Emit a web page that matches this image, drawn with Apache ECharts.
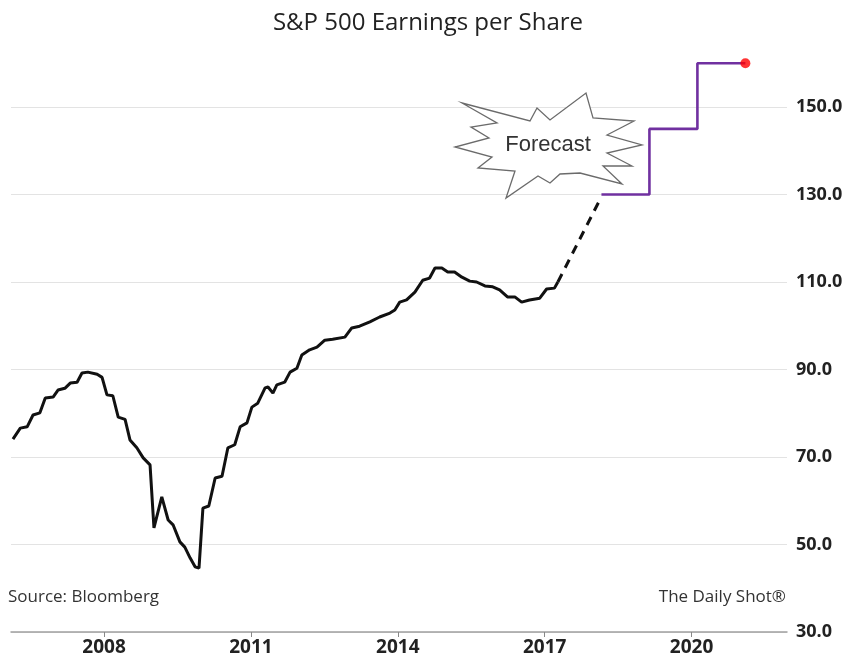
<!DOCTYPE html>
<html>
<head>
<meta charset="utf-8">
<script src="https://cdn.jsdelivr.net/npm/echarts@6/dist/echarts.min.js"></script>
<style>
  html, body { margin: 0; padding: 0; background: #fff; }
  #chart { width: 856px; height: 662px; }
</style>
</head>
<body>
<div id="chart"></div>
<script>
// trailing EPS (x in years)
const epsYears = [
  2006.14, 2006.29, 2006.43, 2006.55, 2006.69, 2006.80, 2006.96, 2007.06, 2007.20, 2007.31,
  2007.45, 2007.55, 2007.67, 2007.86, 2007.96, 2008.06, 2008.18, 2008.29, 2008.43, 2008.53,
  2008.67, 2008.80, 2008.94, 2009.02, 2009.18, 2009.31, 2009.41, 2009.55, 2009.65, 2009.76,
  2009.86, 2009.94, 2010.02, 2010.14, 2010.27, 2010.41, 2010.53, 2010.67, 2010.78, 2010.92,
  2011.02, 2011.14, 2011.29, 2011.35, 2011.45, 2011.53, 2011.69, 2011.80, 2011.94, 2012.04,
  2012.20, 2012.35, 2012.51, 2012.67, 2012.92, 2013.06, 2013.22, 2013.43, 2013.63, 2013.84,
  2013.94, 2014.04, 2014.18, 2014.35, 2014.51, 2014.65, 2014.76, 2014.90, 2015.02, 2015.16,
  2015.31, 2015.47, 2015.61, 2015.78, 2015.94, 2016.08, 2016.24, 2016.39, 2016.53, 2016.69,
  2016.90, 2017.04, 2017.20, 2017.27
]
const epsValues = [
  74.1, 76.6, 76.9, 79.6, 80.1, 83.5, 83.7, 85.3, 85.7, 86.9,
  87.1, 89.2, 89.4, 88.9, 88.2, 84.2, 84.0, 79.1, 78.6, 73.9,
  72.1, 69.8, 68.2, 53.8, 60.9, 55.6, 54.5, 50.6, 49.4, 46.9,
  44.9, 44.6, 58.3, 58.8, 65.2, 65.6, 72.1, 72.8, 76.9, 77.8,
  81.4, 82.3, 85.8, 86.0, 84.6, 86.5, 87.1, 89.4, 90.3, 93.3,
  94.5, 95.1, 96.7, 96.9, 97.4, 99.5, 99.9, 100.9, 102.0, 102.9,
  103.6, 105.4, 105.9, 107.7, 110.4, 110.9, 113.2, 113.2, 112.3, 112.3,
  111.1, 110.2, 110.0, 109.1, 108.9, 108.2, 106.6, 106.6, 105.4, 105.9,
  106.3, 108.4, 108.6, 110.0
]
// dashed bridge to the first forecast
const bridgeYears = [2017.27, 2018.16]
const bridgeValues = [110.0, 129.5]
// annual forecasts (step line)
const forecastYears = [2018.16, 2019.14, 2020.12, 2021.10]
const forecastValues = [130, 145, 160, 160]

const yearTicks = [2008, 2011, 2014, 2017, 2020]
const yTicks = [30, 50, 70, 90, 110, 130, 150]

const zip = (xs, ys) => xs.map((x, i) => [x, ys[i]])
const lastIdx = forecastYears.length - 1

const chart = echarts.init(document.getElementById('chart'))

// starburst callout, plain drawing in pixels
const burst = [
  [462, 103], [530, 121], [537, 108], [550, 120], [586, 93], [593, 118], [634, 121],
  [607, 135], [642, 145], [607, 153], [632, 166], [603, 166], [622, 184], [580, 173],
  [560, 174], [550, 183], [538, 176], [506, 198], [515, 171], [478, 168], [492, 157],
  [455, 147], [489, 138], [471, 127], [497, 123]
]

chart.setOption({
  animation: false,
  title: {
    text: 'S&P 500 Earnings per Share',
    left: 'center',
    top: 6,
    textStyle: { fontFamily: 'Open Sans', fontSize: 24, fontWeight: 'normal', color: '#222' }
  },
  grid: { left: 11, right: 69, top: 19.5, bottom: 30 },
  xAxis: {
    type: 'value',
    min: 2006.1,
    max: 2021.95,
    splitLine: { show: false },
    axisLine: { lineStyle: { color: '#a0a0a0', width: 1.5 } },
    axisTick: { customValues: yearTicks, length: 5, lineStyle: { color: '#888' } },
    axisLabel: {
      customValues: yearTicks,
      margin: 6,
      fontFamily: 'Open Sans',
      fontSize: 19,
      fontWeight: 'bold',
      color: '#222',
      formatter: v => String(v)
    }
  },
  yAxis: {
    type: 'value',
    position: 'right',
    min: 30,
    max: 170,
    interval: 20,
    axisLine: { show: false },
    axisTick: { show: false },
    splitLine: { showMaxLine: false, lineStyle: { color: '#e3e3e3', width: 1.2 } },
    axisLabel: {
      showMaxLabel: false,
      margin: 9,
      fontFamily: 'Open Sans',
      fontSize: 18,
      fontWeight: 'bold',
      color: '#222',
      formatter: v => yTicks.includes(v) ? v.toFixed(1) : ''
    }
  },
  graphic: [
    {
      type: 'text', left: 8, top: 589,
      style: { text: 'Source: Bloomberg', fontFamily: 'Open Sans', fontSize: 17, fill: '#333' }
    },
    {
      type: 'text', right: 70, top: 589,
      style: { text: 'The Daily Shot®', fontFamily: 'Open Sans', fontSize: 17, fill: '#333' }
    },
    {
      type: 'polygon', z: 10,
      shape: { points: burst },
      style: { fill: '#fff', stroke: '#6b6b6b', lineWidth: 1.3 }
    },
    {
      type: 'text', z: 11, x: 548, y: 145,
      style: {
        text: 'Forecast', fontFamily: 'Liberation Sans', fontSize: 22, fill: '#333',
        align: 'center', verticalAlign: 'middle'
      }
    }
  ],
  series: [
    {
      name: 'EPS',
      type: 'line',
      data: zip(epsYears, epsValues),
      symbol: 'none',
      lineStyle: { color: '#111', width: 3 }
    },
    {
      name: 'Bridge',
      type: 'line',
      data: zip(bridgeYears, bridgeValues),
      symbol: 'none',
      lineStyle: { color: '#111', width: 3, type: [9, 7] }
    },
    {
      name: 'Forecast',
      type: 'line',
      step: 'end',
      data: zip(forecastYears, forecastValues),
      symbol: 'none',
      lineStyle: { color: '#7030a0', width: 2.6 }
    },
    {
      name: 'Latest',
      type: 'scatter',
      data: [[forecastYears[lastIdx], forecastValues[lastIdx]]],
      symbolSize: 10,
      itemStyle: { color: '#ff0000' },
      z: 5
    }
  ]
})
</script>
</body>
</html>
